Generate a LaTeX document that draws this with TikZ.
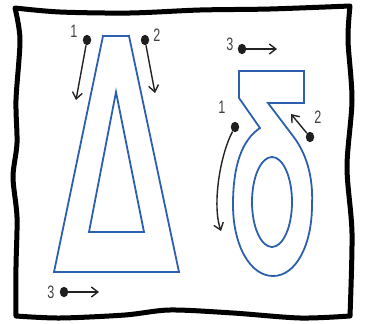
\documentclass[tikz,border=0pt]{standalone}
\usepackage{fontspec}
\newfontfamily\numfont[FakeStretch=0.7]{Liberation Sans}
\usepackage{tikz}
\usetikzlibrary{arrows.meta, shapes.geometric}
\definecolor{glyphblue}{RGB}{45, 95, 175}
\definecolor{pen}{RGB}{35, 35, 35}
\definecolor{numgray}{RGB}{65, 65, 65}

\begin{document}
\begin{tikzpicture}[
    x=1pt, y=-1pt,
    >={Straight Barb[length=6.5pt, width=10pt]},
    % Shape Styles
    outline/.style={draw=glyphblue, line width=1.8pt, line join=miter},
    frame/.style={draw=black, line width=5pt, line join=round},
    startdot/.style={ellipse, fill=black!88, minimum width=8.5pt, minimum height=10.5pt, inner sep=0pt},
    num/.style={font=\numfont\fontsize{18}{18}\selectfont, text=numgray, inner sep=0pt},
    % Arrow Styles
    stroke/.style={->, draw=pen, line width=1.4pt}
]
    \useasboundingbox (0,0) rectangle (365,324);

    % =========================================================================
    % 1. WAVY FRAME
    % =========================================================================
    \draw[frame] plot[smooth] coordinates {(15,8) (60,12) (130,13) (200,10) (270,9) (350,6)}
      -- plot[smooth] coordinates {(350,6) (348,40) (352,100) (347,167) (352,233) (350,316)}
      -- plot[smooth] coordinates {(350,316) (300,318) (233,313) (170,310) (125,315) (60,318) (16,316)}
      -- plot[smooth] coordinates {(16,316) (16,267) (17,217) (13,177) (17,143) (16,100) (20,40) (15,8)}
      -- cycle;

    % =========================================================================
    % 2. CAPITAL DELTA
    % =========================================================================
    \draw[outline] (103,36) -- (129,36) -- (179,272) -- (54,272) -- cycle;
    \draw[outline] (116,92) -- (144,232) -- (89,232) -- cycle;

    \node (d1) [startdot] at (87,40) {};
    \node (d2) [startdot] at (145,40) {};
    \node (d3) [startdot] at (64,292) {};
    \node (d1num) [num] at (74,31) {1};
    \node (d2num) [num] at (157,35) {2};
    \node (d3num) [num] at (51,292) {3};
    \coordinate (d1end) at (76,100);
    \coordinate (d2end) at (155,93);
    \coordinate (d3end) at (99,292);

    \draw[stroke] (d1) -- (d1end);
    \draw[stroke] (d2) -- (d2end);
    \draw[stroke] (d3) -- (d3end);

    % =========================================================================
    % 3. SMALL DELTA
    % =========================================================================
    \draw[outline] (239,71) -- (304,71) -- (304,103) -- (268,103) -- (293,136)
      .. controls (310,158) and (313,185) .. (312,205)
      .. controls (312,245) and (296,276) .. (273,276)
      .. controls (250,276) and (233,245) .. (233,205)
      .. controls (233,165) and (242,140) .. (260,128)
      -- (239,98) -- cycle;
    \draw[outline] (272,202) ellipse [x radius=20, y radius=45];

    \node (s1) [startdot] at (235,127) {};
    \node (s2) [startdot] at (310,137) {};
    \node (s3) [startdot] at (242,49) {};
    \node (s1num) [num] at (222,107) {1};
    \node (s2num) [num] at (318,117) {2};
    \node (s3num) [num] at (230,44) {3};
    \coordinate (s1end) at (221,231);
    \coordinate (s2end) at (291,114);
    \coordinate (s3end) at (277,49);

    \draw[stroke] (s1) .. controls (220,155) and (212,205) .. (s1end);
    \draw[stroke] (s2) -- (s2end);
    \draw[stroke] (s3) -- (s3end);

\end{tikzpicture}
\end{document}
